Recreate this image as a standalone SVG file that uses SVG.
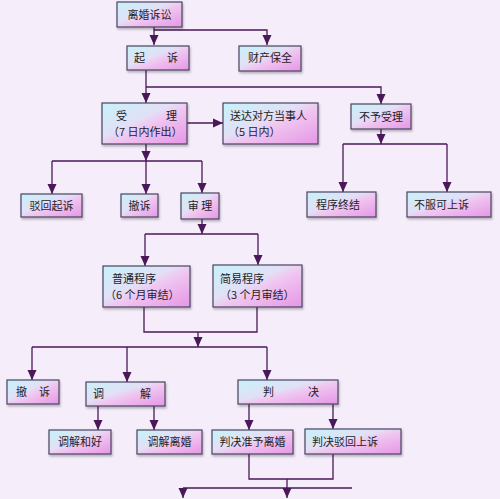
<svg xmlns="http://www.w3.org/2000/svg" width="500" height="499" viewBox="0 0 500 499">
<defs>
<linearGradient id="g" x1="0" y1="0" x2="1" y2="1">
<stop offset="0" stop-color="#c6f2fa"/>
<stop offset="0.42" stop-color="#e2e0f6"/>
<stop offset="0.55" stop-color="#f0c6f0"/>
<stop offset="1" stop-color="#e596e6"/>
</linearGradient>
<marker id="arr" markerUnits="userSpaceOnUse" markerWidth="10" markerHeight="10" viewBox="0 0 10 10" refX="10" refY="5" orient="auto">
<path d="M0,0.5 L10,5 L0,9.5 Z" fill="#4a1858"/>
</marker>
<filter id="sh" x="-10%" y="-10%" width="130%" height="140%">
<feGaussianBlur in="SourceAlpha" stdDeviation="1.2"/>
<feOffset dx="1" dy="1.5" result="b"/>
<feComponentTransfer><feFuncA type="linear" slope="0.25"/></feComponentTransfer>
<feMerge><feMergeNode/><feMergeNode in="SourceGraphic"/></feMerge>
</filter>
</defs>
<style>
.box{fill:url(#g);stroke:#4a4460;stroke-width:1.2;filter:url(#sh)}
.t{font-family:"Noto Sans CJK SC","Noto Sans",sans-serif;font-size:11px;fill:#1e1e2a}
.c{text-anchor:middle}
.ln{fill:none;stroke:#4a1858;stroke-width:1.3}
.a{marker-end:url(#arr)}
</style>
<rect width="500" height="499" fill="#f5edfa"/>
<g id="connectors">
<path class="ln a" d="M154,27 V45"/>
<path class="ln a" d="M154,30 H267 V45"/>
<path class="ln a" d="M146,70 V103"/>
<path class="ln a" d="M146,87 H381 V104"/>
<path class="ln a" d="M187,123 H223"/>
<path class="ln a" d="M381,129 V144"/>
<path class="ln" d="M343,144 H447"/>
<path class="ln a" d="M343,144 V192"/>
<path class="ln a" d="M447,144 V192"/>
<path class="ln a" d="M146,144 V161"/>
<path class="ln" d="M52,161 H202"/>
<path class="ln a" d="M52,161 V194"/>
<path class="ln a" d="M146,161 V194"/>
<path class="ln a" d="M202,161 V193"/>
<path class="ln a" d="M202,219 V234"/>
<path class="ln" d="M145,234 H258"/>
<path class="ln a" d="M145,234 V266"/>
<path class="ln a" d="M258,234 V265"/>
<path class="ln" d="M144,307 V332 H257 V307"/>
<path class="ln a" d="M198,332 V347"/>
<path class="ln" d="M32,347 H267"/>
<path class="ln a" d="M32,347 V380"/>
<path class="ln a" d="M127,347 V382"/>
<path class="ln a" d="M267,347 V380"/>
<path class="ln a" d="M98,406 V430"/>
<path class="ln a" d="M154,406 V430"/>
<path class="ln a" d="M249,404 V430"/>
<path class="ln a" d="M333,404 V429"/>
<path class="ln" d="M249,454 V479 H333 V454"/>
<path class="ln a" d="M287,479 V498"/>
<path class="ln" d="M183,488 H352"/>
<path class="ln a" d="M183,488 V498"/>
</g>
<g id="n1"><rect class="box" x="117" y="2" width="65" height="25"/><text class="t c" x="149.5" y="18.5">离婚诉讼</text></g>
<g id="n2"><rect class="box" x="127" y="46" width="62" height="24"/><text class="t" x="134" y="62">起</text><text class="t" x="167" y="62">诉</text></g>
<g id="n3"><rect class="box" x="239" y="46" width="62" height="25"/><text class="t c" x="270" y="62">财产保全</text></g>
<g id="n4"><rect class="box" x="102" y="103" width="85" height="41"/><text class="t" x="116" y="120">受</text><text class="t" x="166" y="120">理</text><text class="t" x="108" y="136">（7 日内作出）</text></g>
<g id="n5"><rect class="box" x="223" y="103" width="95" height="41"/><text class="t" x="230" y="120">送达对方当事人</text><text class="t" x="228" y="136">（5 日内）</text></g>
<g id="n6"><rect class="box" x="351" y="104" width="60" height="25"/><text class="t c" x="381" y="120.5">不予受理</text></g>
<g id="n7"><rect class="box" x="21" y="194" width="61" height="23"/><text class="t c" x="51.5" y="209.5">驳回起诉</text></g>
<g id="n8"><rect class="box" x="121" y="194" width="37" height="23"/><text class="t c" x="139.5" y="209.5">撤诉</text></g>
<g id="n9"><rect class="box" x="181" y="193" width="38" height="26"/><text class="t c" x="200" y="210">审 理</text></g>
<g id="n10"><rect class="box" x="307" y="192" width="69" height="25"/><text class="t" x="316" y="209">程序终结</text></g>
<g id="n11"><rect class="box" x="407" y="192" width="84" height="25"/><text class="t" x="414" y="209">不服可上诉</text></g>
<g id="n12"><rect class="box" x="103" y="266" width="87" height="41"/><text class="t" x="112" y="283">普通程序</text><text class="t" x="105" y="299">（6 个月审结）</text></g>
<g id="n13"><rect class="box" x="213" y="265" width="89" height="42"/><text class="t" x="220" y="283">简易程序</text><text class="t" x="220" y="299">（3 个月审结）</text></g>
<g id="n14"><rect class="box" x="7" y="380" width="52" height="24"/><text class="t" x="16" y="396">撤</text><text class="t" x="39" y="396">诉</text></g>
<g id="n15"><rect class="box" x="86" y="382" width="79" height="24"/><text class="t" x="93" y="398">调</text><text class="t" x="140" y="398">解</text></g>
<g id="n16"><rect class="box" x="238" y="380" width="100" height="24"/><text class="t" x="263" y="396">判</text><text class="t" x="308" y="396">决</text></g>
<g id="n17"><rect class="box" x="49" y="430" width="62" height="24"/><text class="t c" x="80" y="446">调解和好</text></g>
<g id="n18"><rect class="box" x="137" y="430" width="65" height="24"/><text class="t c" x="169.5" y="446">调解离婚</text></g>
<g id="n19"><rect class="box" x="212" y="430" width="81" height="24"/><text class="t c" x="252.5" y="446">判决准予离婚</text></g>
<g id="n20"><rect class="box" x="305" y="429" width="96" height="25"/><text class="t" x="312" y="446">判决驳回上诉</text></g>
</svg>
